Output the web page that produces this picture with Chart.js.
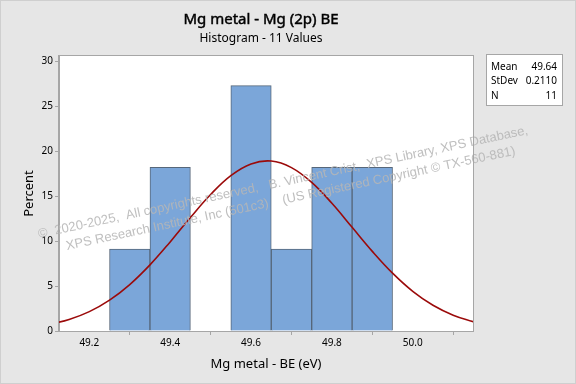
<!DOCTYPE html>
<html>
<head>
<meta charset="utf-8">
<script src="https://cdn.jsdelivr.net/npm/chart.js@4"></script>
<style>
  html, body { margin: 0; padding: 0; background: #e6e6e6; }
  #wrap { width: 576px; height: 384px; }
</style>
</head>
<body>
<div id="wrap"><canvas id="chartCanvas" width="576" height="384"></canvas></div>
<script>
// --- data ---
const binCenters = [49.3, 49.4, 49.5, 49.6, 49.7, 49.8, 49.9];
const binPercent = [9.09, 18.18, 0, 27.27, 9.09, 18.18, 18.18];

// fitted normal curve (mean 49.64, sd 0.211), read at 0.05 steps
const fitX = [49.10, 49.15, 49.20, 49.25, 49.30, 49.35, 49.40, 49.45, 49.50, 49.55, 49.60,
              49.65, 49.70, 49.75, 49.80, 49.85, 49.90, 49.95, 50.00, 50.05, 50.10, 50.15];
const fitY = [0.72, 1.28, 2.15, 3.43, 5.16, 7.35, 9.90, 12.61, 15.17, 17.27, 18.57,
              18.89, 18.16, 16.51, 14.19, 11.52, 8.85, 6.43, 4.41, 2.86, 1.76, 1.02];

const xTicks = [49.2, 49.4, 49.6, 49.8, 50.0];
const yTicks = [0, 5, 10, 15, 20, 25, 30];

const titleText = "Mg metal - Mg (2p) BE";
const subtitleText = "Histogram - 11 Values";
const statLabels = ["Mean", "StDev", "N"];
const statValues = ["49.64", "0.2110", "11"];
const watermark = [
  "©  2020-2025,  All copyrights reserved,   B. Vincent Crist,  XPS Library, XPS Database,",
  "XPS Research Institute, Inc (501c3)    (US Registered Copyright © TX-560-881)"
];

const FONT = "'Noto Sans', 'Open Sans', sans-serif";

// --- plugin: background, frame, titles, stats box, watermark ---
const decor = {
  id: "decor",
  beforeDraw(chart) {
    const ctx = chart.ctx;
    ctx.save();
    ctx.fillStyle = "#e6e6e6";
    ctx.fillRect(0, 0, chart.width, chart.height);
    ctx.strokeStyle = "#cfcfcf";
    ctx.lineWidth = 1;
    ctx.strokeRect(0.5, 0.5, chart.width - 1, chart.height - 1);
    const a = chart.chartArea;
    ctx.fillStyle = "#ffffff";
    ctx.fillRect(a.left, a.top, a.right - a.left, a.bottom - a.top);
    ctx.restore();
  },
  afterDatasetsDraw(chart) {
    const ctx = chart.ctx;
    const a = chart.chartArea;
    ctx.save();
    // watermark
    ctx.fillStyle = "rgba(182,182,182,0.88)";
    ctx.font = "13px Arial, 'Liberation Sans', sans-serif";
    ctx.translate(39, 238);
    ctx.rotate(-12 * Math.PI / 180);
    ctx.fillText(watermark[0], 0, 0);
    ctx.fillText(watermark[1], 25, 17.5);
    ctx.restore();

    ctx.save();
    // plot frame
    ctx.strokeStyle = "#a6a6a6";
    ctx.lineWidth = 1;
    ctx.strokeRect(a.left - 0.5, a.top - 0.5, a.right - a.left + 1, a.bottom - a.top + 1);
    // titles
    const cx = (a.left + a.right) / 2 - 5;
    ctx.fillStyle = "#000";
    ctx.strokeStyle = "#000";
    ctx.textAlign = "center";
    ctx.textBaseline = "middle";
    ctx.font = "15px " + FONT;
    ctx.fillText(titleText, cx, 20);
    ctx.lineWidth = 0.45;
    ctx.strokeText(titleText, cx, 20);
    ctx.font = "12px " + FONT;
    ctx.fillText(subtitleText, cx, 39);
    // stats box
    ctx.fillStyle = "#fff";
    ctx.fillRect(486, 54, 76, 51);
    ctx.strokeStyle = "#a6a6a6";
    ctx.lineWidth = 1;
    ctx.strokeRect(486.5, 54.5, 76, 51);
    ctx.fillStyle = "#000";
    ctx.font = "10px " + FONT;
    statLabels.forEach((s, i) => {
      const y = 67 + i * 14.5;
      ctx.textAlign = "left";
      ctx.fillText(s, 491, y);
      ctx.textAlign = "right";
      ctx.fillText(statValues[i], 557, y);
    });
    ctx.restore();
  }
};

const canvas = document.getElementById("chartCanvas");

new Chart(canvas, {
  type: "bar",
  data: {
    datasets: [
      {
        type: "line",
        label: "Normal fit",
        data: fitX.map((x, i) => ({ x, y: fitY[i] })),
        borderColor: "#9b0a0a",
        borderWidth: 1.6,
        pointRadius: 0,
        tension: 0.4,
        fill: false,
        order: 0
      },
      {
        type: "bar",
        label: "Percent",
        data: binCenters.map((x, i) => ({ x, y: binPercent[i] })),
        backgroundColor: "#7ba6d9",
        borderColor: "#56677a",
        borderWidth: 1,
        barPercentage: 1,
        categoryPercentage: 1,
        order: 1
      }
    ]
  },
  options: {
    responsive: false,
    animation: false,
    layout: { padding: { top: 56, right: 103, left: 0, bottom: 0 } },
    plugins: {
      legend: { display: false },
      tooltip: { enabled: false },
      title: { display: false }
    },
    scales: {
      x: {
        type: "linear",
        min: 49.125,
        max: 50.149,
        offset: false,
        afterBuildTicks: s => { s.ticks = xTicks.map(v => ({ value: v })); },
        afterFit: s => { s.height = 53; },
        grid: { drawOnChartArea: false, tickLength: 4, color: "#a6a6a6" },
        border: { color: "#a6a6a6" },
        ticks: {
          color: "#000",
          font: { family: FONT, size: 10 },
          padding: 2,
          maxRotation: 0,
          callback: v => v.toFixed(1)
        },
        title: {
          display: true,
          text: "Mg metal - BE (eV)",
          color: "#000",
          font: { family: FONT, size: 13 },
          padding: { top: 0, bottom: 12 }
        }
      },
      y: {
        min: 0,
        max: 30.56,
        afterBuildTicks: s => { s.ticks = yTicks.map(v => ({ value: v })); },
        afterFit: s => { s.width = 59; },
        grid: { drawOnChartArea: false, tickLength: 4, color: "#a6a6a6" },
        border: { color: "#a6a6a6" },
        ticks: {
          color: "#000",
          font: { family: FONT, size: 10 },
          padding: 2
        },
        title: {
          display: true,
          text: "Percent",
          color: "#000",
          font: { family: FONT, size: 13 },
          padding: { top: 21, bottom: 0 }
        }
      }
    }
  },
  plugins: [decor]
});
</script>
</body>
</html>
